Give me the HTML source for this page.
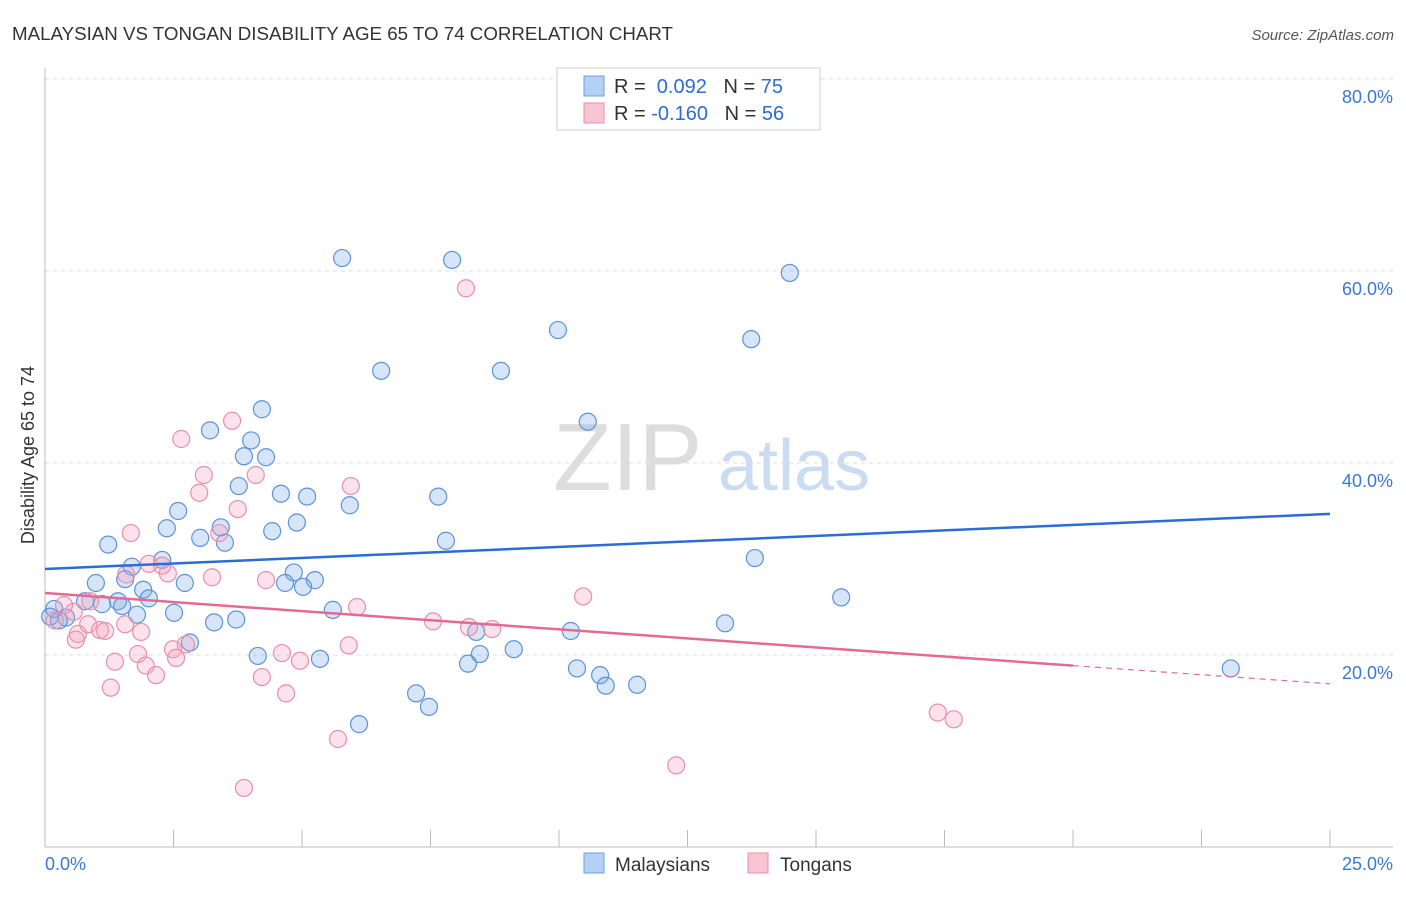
<!DOCTYPE html>
<html><head><meta charset="utf-8"><style>
body{margin:0;background:#fff;font-family:"Liberation Sans",sans-serif}
svg text{font-family:"Liberation Sans",sans-serif}
</style></head><body>
<svg id="c" width="1406" height="892" xmlns="http://www.w3.org/2000/svg">
<text x="12" y="40" font-size="18" fill="#333" textLength="661" lengthAdjust="spacingAndGlyphs">MALAYSIAN VS TONGAN DISABILITY AGE 65 TO 74 CORRELATION CHART</text>
<text x="1394" y="40" font-size="15" fill="#555" font-style="italic" text-anchor="end">Source: ZipAtlas.com</text>
<g><text x="553" y="490" font-size="96" fill="#ddd" font-family="Liberation Serif,serif">ZIP</text><text x="718" y="490" font-size="72" fill="#c9dcf2">atlas</text></g>
<g id="grid"></g><g id="axes"></g><g id="pts"></g><g id="lines"></g>
<text transform="translate(34,455) rotate(-90)" font-size="18" fill="#333" text-anchor="middle">Disability Age 65 to 74</text>
<g>
<rect x="557" y="68" width="263" height="62" fill="#fff" stroke="#ccc"/>
<rect x="584" y="76" width="20" height="20" fill="#b3d1f5" stroke="#6a9fe0"/>
<rect x="584" y="103" width="20" height="20" fill="#f9c4d4" stroke="#e890ab"/>
<text x="614" y="93" font-size="20" fill="#333">R = <tspan fill="#2a6dd6">&#160;0.092</tspan>&#160;&#160;&#160;N = <tspan fill="#2a6dd6">75</tspan></text>
<text x="614" y="120" font-size="20" fill="#333">R = <tspan fill="#2a6dd6">-0.160</tspan>&#160;&#160;&#160;N = <tspan fill="#2a6dd6">56</tspan></text>
</g>
<g>
<rect x="584" y="853" width="20" height="20" fill="#b3d1f5" stroke="#6a9fe0"/><text x="615" y="871" font-size="19" fill="#333">Malaysians</text>
<rect x="748" y="853" width="20" height="20" fill="#f9c4d4" stroke="#e890ab"/><text x="780" y="871" font-size="19" fill="#333">Tongans</text>
</g>
</svg>
<script>
const yTicks=[20,40,60,80];
const xLabels=["0.0%","25.0%"];
const blueX=[5.78,7.92,14.49,9.98,13.74,6.54,8.87,4.22,10.56,3.21,4.01,3.87,4.30,3.77,4.59,5.10,7.65,2.59,5.93,4.90,2.37,4.42,3.42,3.02,3.50,7.80,1.23,2.28,13.81,1.69,4.84,0.99,1.56,2.72,5.25,4.67,5.02,1.91,2.02,15.49,0.78,1.11,1.42,1.50,5.60,2.51,1.79,0.18,3.72,3.29,0.41,13.23,0.10,0.27,10.23,8.39,2.82,4.14,9.12,8.46,5.35,8.23,10.35,23.07,10.80,10.91,11.52,7.22,7.47,6.11];
const blueY=[61.35,61.15,59.8,53.85,52.9,49.6,49.6,45.6,44.3,43.4,42.35,40.7,40.6,37.6,36.8,36.5,36.5,35.0,35.6,33.8,33.2,32.9,33.3,32.2,31.7,31.9,31.5,29.9,30.1,29.2,28.6,27.5,27.9,27.5,27.8,27.5,27.1,26.8,25.9,26.0,25.6,25.3,25.6,25.1,24.7,24.4,24.2,24.8,23.7,23.4,23.9,23.3,24.0,23.6,22.5,22.4,21.3,19.9,20.6,20.1,19.6,19.1,18.6,18.6,17.9,16.8,16.9,16.0,14.6,12.8];
const pinkX=[8.19,3.64,2.65,3.09,4.10,3.00,5.95,3.75,3.39,1.67,2.02,2.28,2.39,1.58,3.25,4.30,10.47,6.07,0.88,0.56,0.37,0.19,0.84,1.56,1.07,1.17,0.64,0.60,1.87,7.55,8.25,8.70,2.74,2.49,5.91,1.81,2.55,1.36,1.96,4.61,4.96,2.16,4.22,1.28,4.69,17.37,17.68,5.70,12.28,3.87];
const pinkY=[58.2,44.4,42.5,38.75,38.75,36.9,37.6,35.2,32.7,32.7,29.5,29.3,28.5,28.4,28.1,27.8,26.1,25.0,25.6,24.5,25.2,23.6,23.2,23.2,22.6,22.5,22.2,21.6,22.4,23.5,22.9,22.7,21.1,20.6,21.0,20.1,19.7,19.3,18.9,20.2,19.4,17.9,17.7,16.6,16.0,14.0,13.3,11.25,8.5,6.15];
const blueTrend=[28.96,34.7];
const pinkTrend=[26.46,17.0];
const pinkSolidEnd=20;
const X=v=>45+v*51.4, Y=v=>847-v*9.6;
const NS="http://www.w3.org/2000/svg";
function mk(parent,tag,attrs){const e=document.createElementNS(NS,tag);for(const k in attrs)e.setAttribute(k,attrs[k]);document.getElementById(parent).appendChild(e);return e;}
yTicks.forEach(t=>{
 const l=mk('grid','line',{x1:45,x2:1393,y1:Y(t),y2:Y(t),stroke:'#ddd','stroke-dasharray':'4,4'});
 
 
 const tx=mk('grid','text',{x:1393,y:Y(t)+24,'font-size':18,fill:'#3a78d4','text-anchor':'end'});
 tx.textContent=t.toFixed(1)+'%';
 
 
});
const ya=mk('axes','line',{x1:45,x2:45,y1:68,y2:847,stroke:'#bbb'});


const xa=mk('axes','line',{x1:45,x2:1393,y1:847,y2:847,stroke:'#bbb'});


for(let i=0;i<=10;i++){const tk=mk('axes','line',{x1:X(i*2.5),x2:X(i*2.5),y1:830,y2:847,stroke:'#bbb'});
 
 }
const xl0=mk('axes','text',{x:45,y:870,'font-size':18,fill:'#3a78d4'});xl0.textContent=xLabels[0];


const xl1=mk('axes','text',{x:1393,y:870,'font-size':18,fill:'#3a78d4','text-anchor':'end'});xl1.textContent=xLabels[1];


blueX.forEach((v,i)=>{const c=mk('pts','circle',{cx:X(v),cy:Y(blueY[i]),r:8.5,fill:'rgba(120,170,230,0.3)',stroke:'#5b93dc','stroke-width':1.2});
 
 });
pinkX.forEach((v,i)=>{const c=mk('pts','circle',{cx:X(v),cy:Y(pinkY[i]),r:8.5,fill:'rgba(245,160,185,0.3)',stroke:'#ea8fab','stroke-width':1.2});
 
 });
const bl=mk('lines','line',{x1:X(0),y1:Y(blueTrend[0]),x2:X(25),y2:Y(blueTrend[1]),stroke:'#2a6dd6','stroke-width':2.5});


const pm=pinkTrend[0]+(pinkTrend[1]-pinkTrend[0])*pinkSolidEnd/25;
const pl=mk('lines','line',{x1:X(0),y1:Y(pinkTrend[0]),x2:X(pinkSolidEnd),y2:Y(pm),stroke:'#e46a94','stroke-width':2.5});


const pd=mk('lines','line',{x1:X(pinkSolidEnd),y1:Y(pm),x2:X(25),y2:Y(pinkTrend[1]),stroke:'#e46a94','stroke-width':1.2,'stroke-dasharray':'6,5'});


</script>
</body></html>
